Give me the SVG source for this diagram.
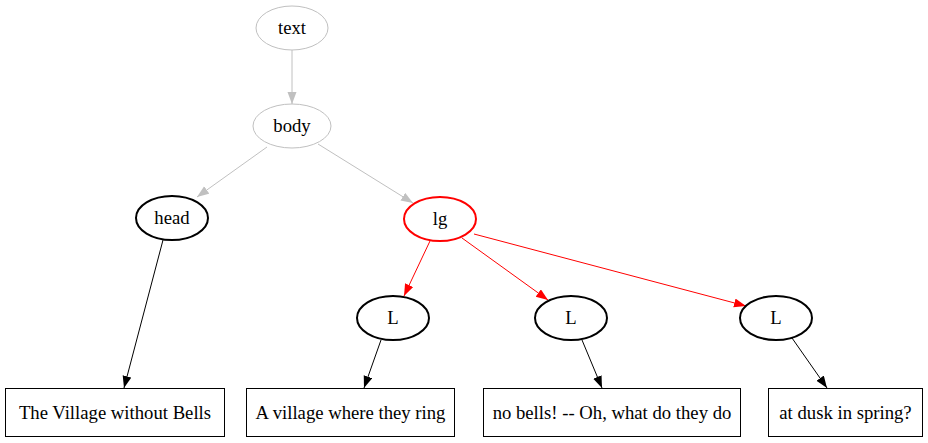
<svg xmlns="http://www.w3.org/2000/svg" width="928" height="443" viewBox="0 0 928 443">
<style>
text{font-family:"Liberation Serif","Times New Roman",serif;font-size:18.7px;text-anchor:middle;fill:#000}
.g{fill:none;stroke:#c0c0c0;stroke-width:1}
.b{fill:none;stroke:#000;stroke-width:2}
.r{fill:none;stroke:#ff0000;stroke-width:2}
.box{fill:none;stroke:#000;stroke-width:1}
.eg{stroke:#c0c0c0;stroke-width:1;fill:none;marker-end:url(#ag)}
.er{stroke:#ff0000;stroke-width:1;fill:none;marker-end:url(#ar)}
.eb{stroke:#000;stroke-width:1;fill:none;marker-end:url(#ab)}
</style>
<defs>
<marker id="ag" markerUnits="userSpaceOnUse" markerWidth="12" markerHeight="10" refX="12" refY="4.5" orient="auto"><path d="M0,0 L12,4.5 L0,9 z" fill="#c0c0c0" stroke="none"/></marker>
<marker id="ar" markerUnits="userSpaceOnUse" markerWidth="12" markerHeight="10" refX="12" refY="4.5" orient="auto"><path d="M0,0 L12,4.5 L0,9 z" fill="#ff0000" stroke="none"/></marker>
<marker id="ab" markerUnits="userSpaceOnUse" markerWidth="12" markerHeight="10" refX="12" refY="4.5" orient="auto"><path d="M0,0 L12,4.5 L0,9 z" fill="#000" stroke="none"/></marker>
</defs>
<g id="edges">
<path class="eg" d="M292,50 L292,104"/>
<path class="eg" d="M267,147 L197,197"/>
<path class="eg" d="M318,144 L413,203"/>
<path class="eb" d="M163,240 L124,388"/>
<path class="er" d="M430,241 L404,296"/>
<path class="er" d="M462,238 L548,300"/>
<path class="er" d="M474,234 L746,306"/>
<path class="eb" d="M381,340 L364,388"/>
<path class="eb" d="M582,340 L602,388"/>
<path class="eb" d="M792,338 L827,388"/>
</g>
<g id="text"><ellipse class="g" cx="292" cy="28" rx="36" ry="22"/><text x="292" y="34">text</text></g>
<g id="body"><ellipse class="g" cx="292" cy="126" rx="39" ry="22"/><text x="292" y="132">body</text></g>
<g id="head"><ellipse class="b" cx="172" cy="218" rx="36" ry="22"/><text x="172" y="224">head</text></g>
<g id="lg"><ellipse class="r" cx="440" cy="219" rx="36" ry="22"/><text x="440" y="225">lg</text></g>
<g id="L1"><ellipse class="b" cx="393" cy="318" rx="36" ry="22"/><text x="393" y="324">L</text></g>
<g id="L2"><ellipse class="b" cx="571" cy="318" rx="36" ry="22"/><text x="571" y="324">L</text></g>
<g id="L3"><ellipse class="b" cx="776" cy="318" rx="36" ry="22"/><text x="776" y="324">L</text></g>
<g id="box1"><rect class="box" x="5.5" y="388.5" width="219" height="48"/><text x="115" y="419">The Village without Bells</text></g>
<g id="box2"><rect class="box" x="246.5" y="388.5" width="208" height="48"/><text x="350.5" y="419">A village where they ring</text></g>
<g id="box3"><rect class="box" x="483.5" y="388.5" width="257" height="48"/><text x="612" y="419">no bells! -- Oh, what do they do</text></g>
<g id="box4"><rect class="box" x="768.5" y="388.5" width="154" height="48"/><text x="845.5" y="419">at dusk in spring?</text></g>
</svg>
